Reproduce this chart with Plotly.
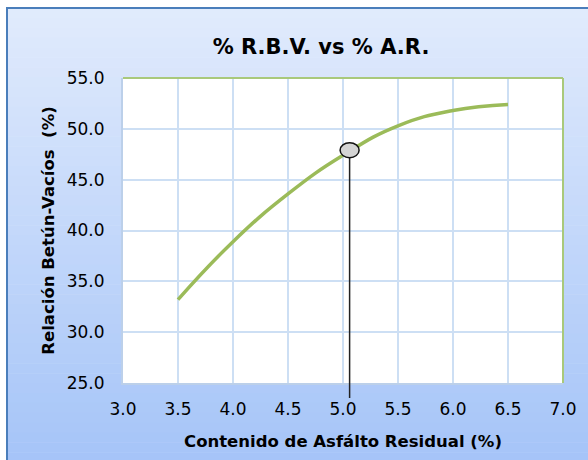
import plotly.graph_objects as go

# ---- data ----
asfalto = [3.5, 4.0, 4.5, 5.0, 5.5, 6.0, 6.5]
rbv = [33.2, 38.9, 43.6, 47.4, 50.3, 51.8, 52.4]
mark_x = 5.06
mark_y = 47.9
x_ticks = [3.0, 3.5, 4.0, 4.5, 5.0, 5.5, 6.0, 6.5, 7.0]
y_ticks = [25.0, 30.0, 35.0, 40.0, 45.0, 50.0, 55.0]
title_text = "% R.B.V. vs % A.R."
x_title = "Contenido de Asfálto Residual (%)"
y_title = "Relación Betún-Vacíos  (%)"

# ---- layout geometry ----
W, H = 588, 460
L, R, T, B = 123, 25, 78, 77
pw, ph = W - L - R, H - T - B


def px_x(p):
    return (p - L) / pw


def px_y(p):
    return (H - B - p) / ph


FONT = "DejaVu Sans"

fig = go.Figure()
fig.add_trace(go.Scatter(
    x=asfalto, y=rbv, mode="lines",
    line=dict(color="#9bbb59", width=3.5, shape="spline", smoothing=1.3),
    hoverinfo="skip", showlegend=False,
))

shapes = []
top_c = (0xE1, 0xEB, 0xFC)
bot_c = (0xA5, 0xC4, 0xF8)
y_top, y_bot = 8, 462
n = 46
for i in range(n):
    a = y_top + (y_bot - y_top) * i / n
    b = y_top + (y_bot - y_top) * (i + 1) / n
    t = (i + 0.5) / n
    c = tuple(round(top_c[k] + (bot_c[k] - top_c[k]) * t) for k in range(3))
    shapes.append(dict(type="rect", xref="paper", yref="paper",
                       x0=px_x(7), x1=px_x(W + 5), y0=px_y(b + 0.5), y1=px_y(a),
                       line=dict(width=0), fillcolor="rgb(%d,%d,%d)" % c,
                       layer="below"))
shapes.append(dict(type="rect", xref="paper", yref="paper",
                   x0=px_x(7), x1=px_x(W + 5), y0=px_y(H + 5), y1=px_y(8),
                   line=dict(color="#4a7ebb", width=2), fillcolor="rgba(0,0,0,0)",
                   layer="below"))
shapes.append(dict(type="rect", xref="paper", yref="paper", x0=0, x1=1, y0=0, y1=1,
                   line=dict(width=0), fillcolor="white", layer="below"))
shapes.append(dict(type="line", xref="paper", yref="paper", x0=0, x1=1, y0=1, y1=1,
                   line=dict(color="#a9c97b", width=2)))
shapes.append(dict(type="line", xref="paper", yref="paper", x0=1, x1=1, y0=0, y1=1,
                   line=dict(color="#a9c97b", width=2)))
shapes.append(dict(type="line", xref="x", yref="paper", x0=mark_x, x1=mark_x,
                   y0=px_y(398), y1=(mark_y - y_ticks[0]) / (y_ticks[-1] - y_ticks[0]),
                   line=dict(color="#222222", width=1.5)))
shapes.append(dict(type="circle", xref="x", yref="y", xsizemode="pixel", ysizemode="pixel",
                   xanchor=mark_x, yanchor=mark_y, x0=-9.5, x1=9.5, y0=-7.5, y1=7.5,
                   fillcolor="#d4d4d4", line=dict(color="#111111", width=1.5)))

fig.update_layout(
    width=W, height=H,
    margin=dict(l=L, r=R, t=T, b=B),
    paper_bgcolor="white",
    plot_bgcolor="rgba(0,0,0,0)",
    shapes=shapes,
    font=dict(family=FONT, color="black"),
    title=dict(text="<b>%s</b>" % title_text, x=321 / W, xref="container", xanchor="center",
               y=1 - 47 / H, yref="container", yanchor="middle",
               font=dict(family=FONT, size=21, color="black")),
)
fig.update_xaxes(
    range=[x_ticks[0], x_ticks[-1]], tickvals=x_ticks, tickformat=".1f",
    showgrid=True, gridcolor="#cddff4", gridwidth=1.5,
    showline=True, linecolor="#bcd0ea", linewidth=2,
    ticks="", ticklabelstandoff=10,
    tickfont=dict(family=FONT, size=17, color="black"),
    title=dict(text="<b>%s</b>" % x_title, font=dict(family=FONT, size=16.5, color="black"),
               standoff=17),
    zeroline=False,
)
fig.update_yaxes(
    range=[y_ticks[0], y_ticks[-1]], tickvals=y_ticks, tickformat=".1f",
    showgrid=True, gridcolor="#cddff4", gridwidth=1.5,
    showline=True, linecolor="#bcd0ea", linewidth=2,
    ticks="", ticklabelstandoff=13,
    tickfont=dict(family=FONT, size=17, color="black"),
    title=dict(text="<b>%s</b>" % y_title, font=dict(family=FONT, size=16.5, color="black"),
               standoff=8),
    zeroline=False,
)

fig.write_html("out.html")
